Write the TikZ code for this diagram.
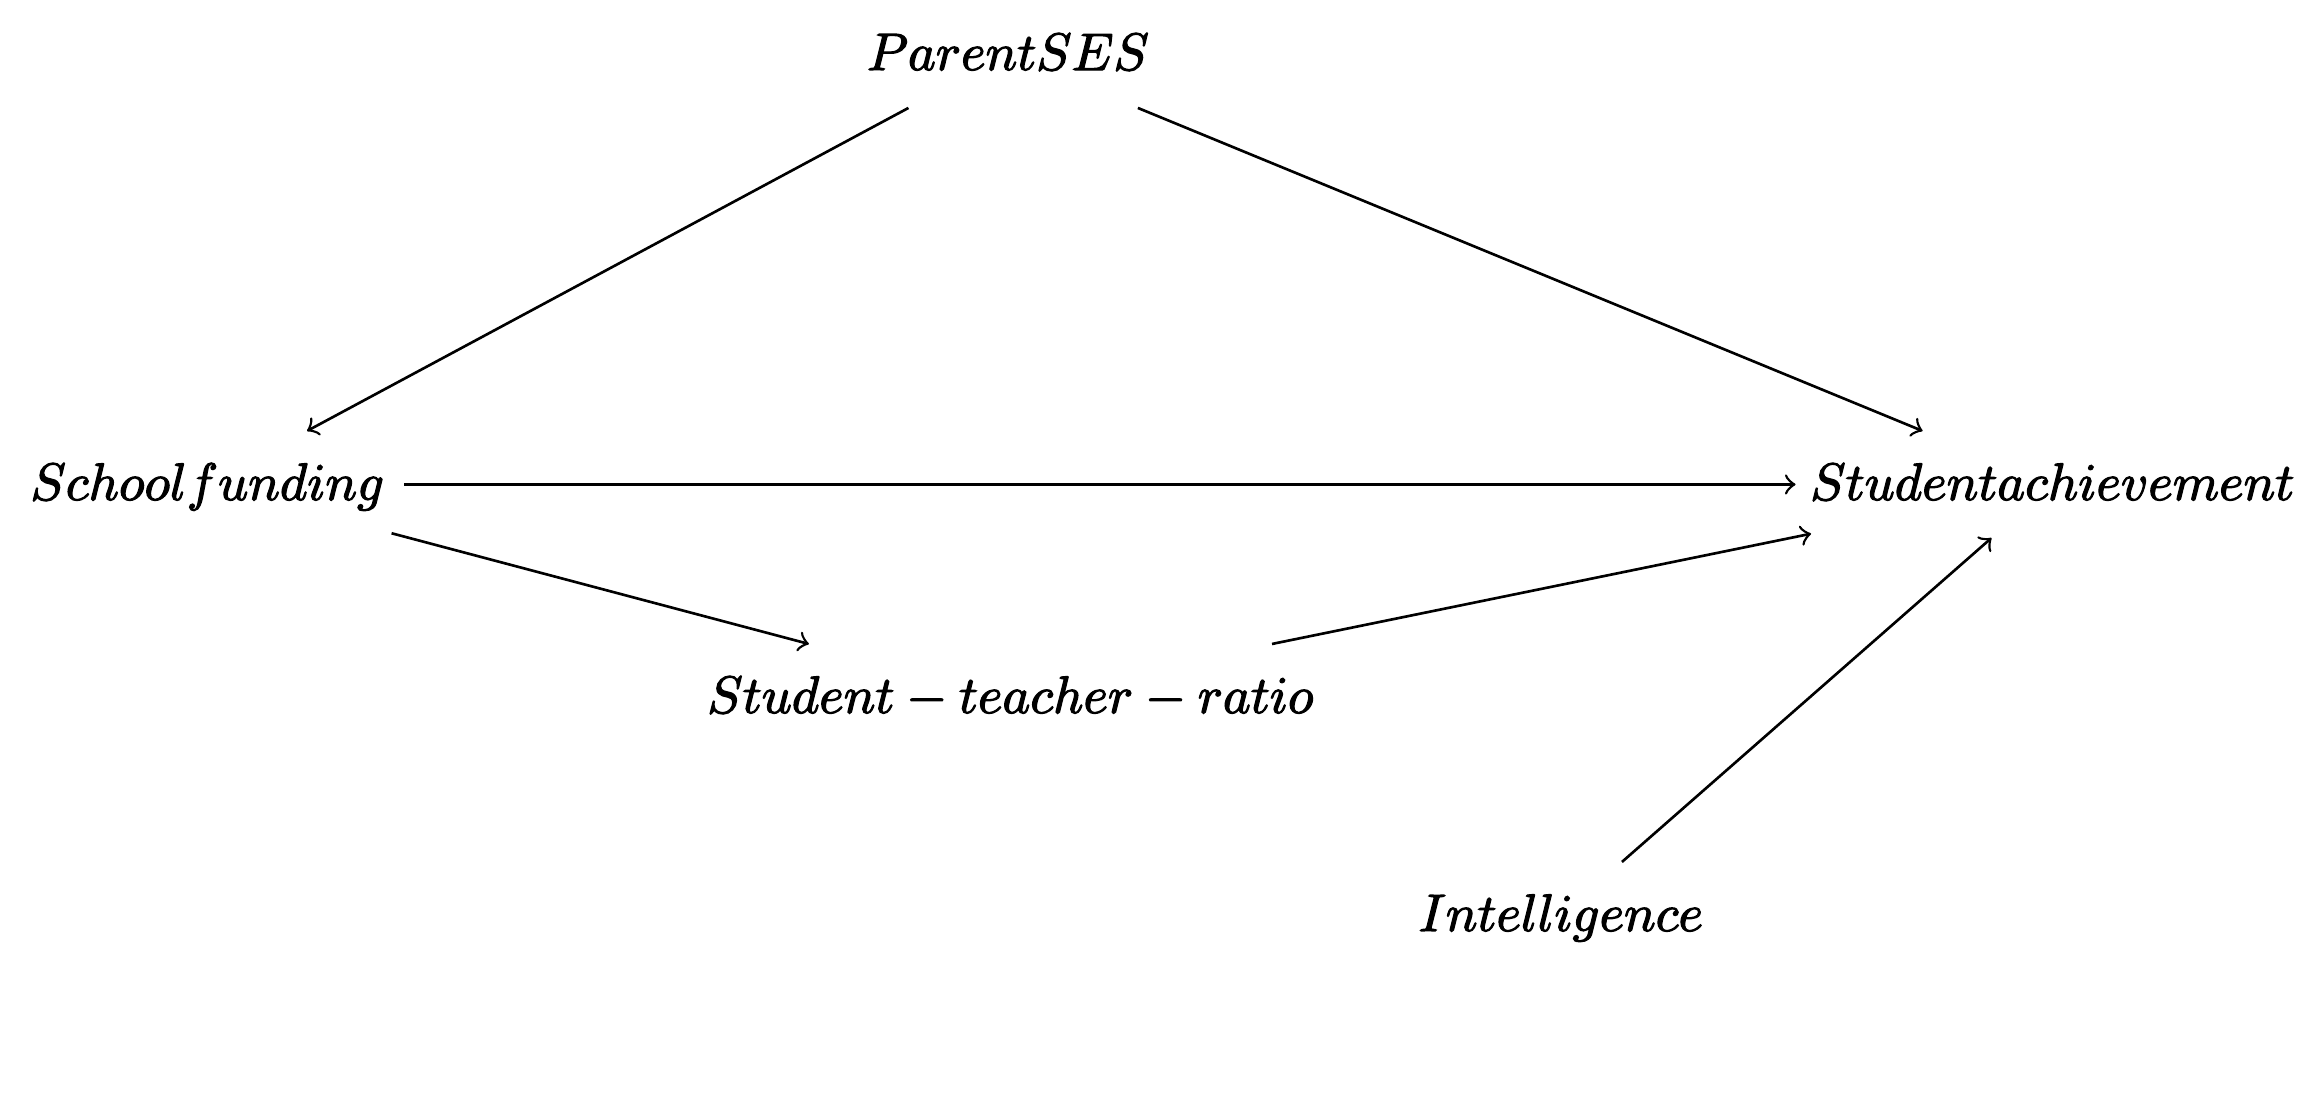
\documentclass[tikz,border=0pt]{standalone}
\newcommand{\heavytext}[1]{\special{pdf:literal 2 Tr 0.22 w}#1\special{pdf:literal 0 Tr}}
\begin{document}
\begin{tikzpicture}[x=0.18975pt,y=-0.18975pt,
  var/.style={anchor=base, inner xsep=2.6pt, inner ysep=0pt, text height=12.9pt, text depth=7.0pt},
  edge/.style={->, line width=0.5pt}]
\useasboundingbox (0,0) rectangle (2324,1118);
\node[var] (ps)  at (1008,70)   {\heavytext{$ParentSES$}};
\node[var] (sf)  at (207.5,500) {\heavytext{$Schoolfunding$}};
\node[var] (sa)  at (2052.5,500) {\heavytext{$Studentachievement$}};
\node[var] (str) at (1010.5,713) {\heavytext{$Student-teacher-ratio$}};
\node[var] (int) at (1561,931)  {\heavytext{$Intelligence$}};
\draw[edge] (ps) -- (sf);
\draw[edge] (ps) -- (sa);
\draw[edge, shorten <=1pt] (sf) -- (sa);
\draw[edge, shorten <=-1.5pt] (sf) -- (str);
\draw[edge, shorten >=-3pt] (str) -- (sa);
\draw[edge] (int) -- (sa);
\end{tikzpicture}
\end{document}
